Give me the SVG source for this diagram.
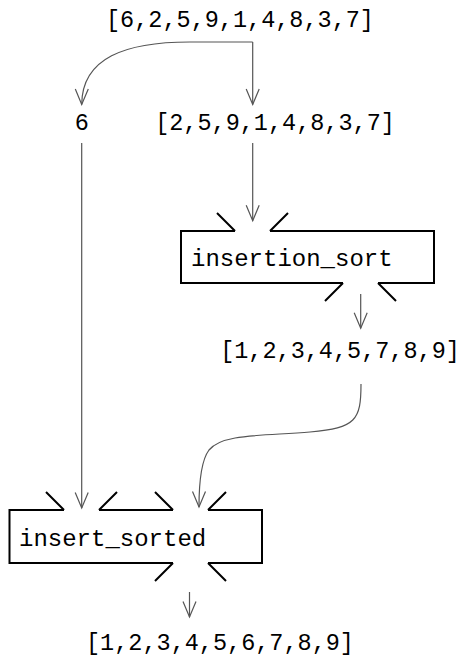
<svg xmlns="http://www.w3.org/2000/svg" width="459" height="660" viewBox="0 0 459 660">
<style>
.t{font-family:"Liberation Mono","DejaVu Sans Mono",monospace;font-size:23.5px;fill:#000}
.lb{font-family:"Liberation Mono","DejaVu Sans Mono",monospace;font-size:24px;fill:#000}
.c{fill:none;stroke:#555;stroke-width:1.2}
.b{fill:none;stroke:#000;stroke-width:2}
</style>
<defs>
<marker id="ah" viewBox="-17 -8 18 16" refX="0" refY="0" markerWidth="18" markerHeight="16" markerUnits="userSpaceOnUse" orient="auto" overflow="visible">
<path d="M-15.5,-6.5 L0,0 L-15.5,6.5" fill="none" stroke="#555" stroke-width="1.2"/>
</marker>
</defs>
<rect width="459" height="660" fill="#fff"/>
<g id="input"><text class="t" x="240" y="27" text-anchor="middle">[6,2,5,9,1,4,8,3,7]</text></g>
<g id="head"><text class="t" x="81.7" y="130" text-anchor="middle">6</text></g>
<g id="tail"><text class="t" x="275" y="130" text-anchor="middle">[2,5,9,1,4,8,3,7]</text></g>
<g id="insertion_sort">
<path class="b" d="M235,231 H181 V283 H343 M378,283 H434 V231 H270"/>
<path class="b" d="M217,213 L235,231 M270,231 L288,213 M343,283 L325,301 M378,283 L396,301"/>
<text class="lb" x="191" y="266">insertion_sort</text>
</g>
<g id="sorted_tail"><text class="t" x="340" y="358" text-anchor="middle">[1,2,3,4,5,7,8,9]</text></g>
<g id="insert_sorted">
<path class="b" d="M64,510 H9.5 V563 H173 M208,563 H262 V510 H208 M173,510 H99"/>
<path class="b" d="M46,492 L64,510 M99,510 L117,492 M155,492 L173,510 M208,510 L226,492 M173,563 L155,581 M208,563 L226,581"/>
<text class="lb" x="19" y="546">insert_sorted</text>
</g>
<g id="output"><text class="t" x="220" y="650" text-anchor="middle">[1,2,3,4,5,6,7,8,9]</text></g>
<g id="connectors">
<path class="c" d="M252.7,42 V104.5" marker-end="url(#ah)"/>
<path class="c" d="M252.7,42 L190,42 C125,42 82,58 81.7,104.5" marker-end="url(#ah)"/>
<path class="c" d="M81.7,143 V508" marker-end="url(#ah)"/>
<path class="c" d="M252.7,143 V220.7" marker-end="url(#ah)"/>
<path class="c" d="M360.7,294 V328.3" marker-end="url(#ah)"/>
<path class="c" d="M361,384 C361,420 356,428 310,432 C260,436 222,434 209,450 C200,462 199,490 199,507" marker-end="url(#ah)"/>
<path class="c" d="M189.5,592 V617" marker-end="url(#ah)"/>
</g>
</svg>
